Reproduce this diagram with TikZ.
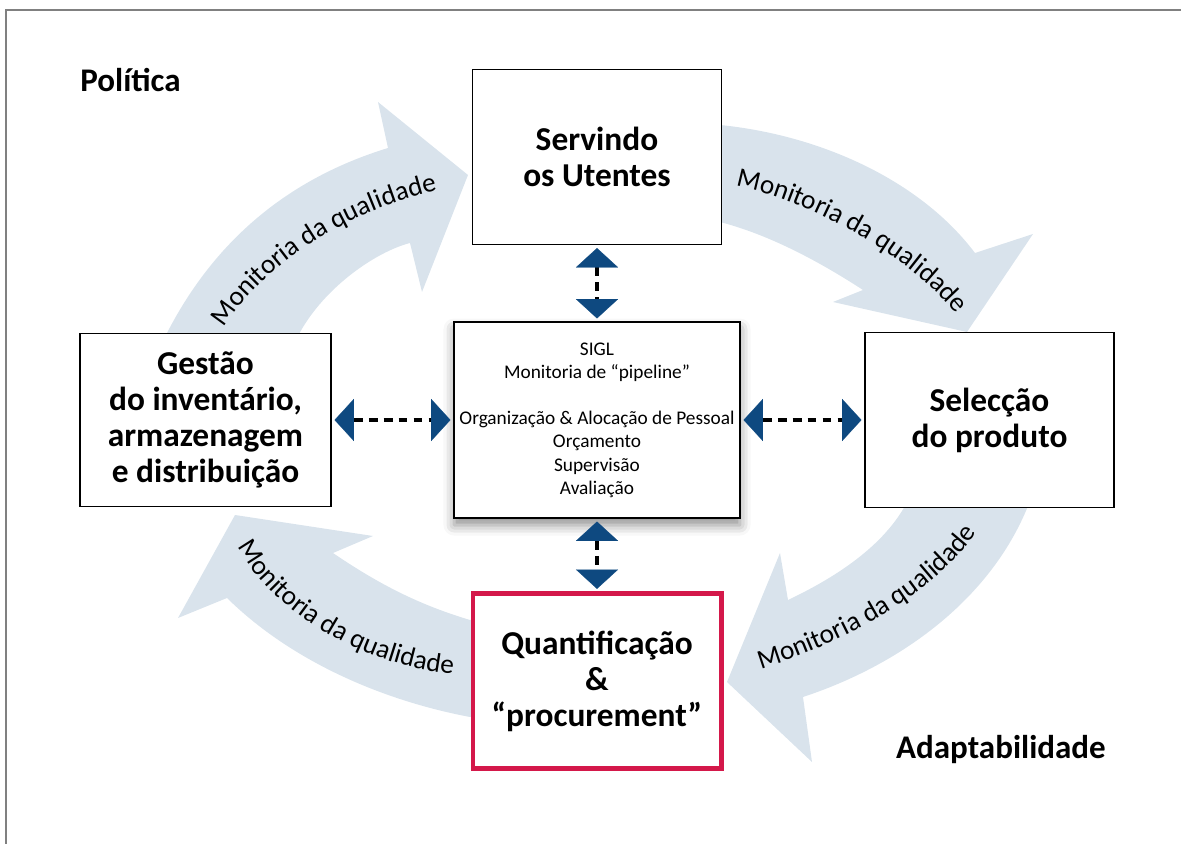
\documentclass[tikz,border=0pt]{standalone}
\usepackage{fontspec}
\setmainfont{Carlito}
\usetikzlibrary{arrows.meta,decorations.text,shadows.blur}
\definecolor{ArrowClr}{HTML}{D9E3EC}
\definecolor{LinkClr}{HTML}{0E4980}
\definecolor{QuantClr}{HTML}{D4184A}
\definecolor{FrameClr}{HTML}{808080}

\begin{document}
\begin{tikzpicture}[x=0.02cm,y=-0.02cm,
  stagebox/.style={draw=black,line width=1.1pt,fill=white,align=center,
    minimum width=4.98cm,minimum height=3.5cm,inner sep=0pt,
    font=\bfseries\fontsize{19}{20.5}\selectfont},
  headlabel/.style={font=\bfseries\fontsize{18.8}{20}\selectfont,inner sep=0pt},
  qualarrow/.style={fill=ArrowClr},
  qualtext/.style={decorate,decoration={text along path,text align=center,
    text={|\fontsize{15.5}{17}\selectfont|#1}}},
  linkarrow/.style={{Triangle[width=24pt,length=11pt,line width=0.1pt,color=LinkClr]}-{Triangle[width=24pt,length=11pt,line width=0.1pt,color=LinkClr]},
    line width=2.2pt,dash pattern=on 5pt off 3.5pt,shorten <=1.5pt,shorten >=1.5pt}]
\useasboundingbox (0,0) rectangle (1181,844);
\draw[FrameClr,line width=1.2pt] (6,860) |- (1200,10);

% quality monitoring arrows
\fill[qualarrow] (165,340) -- (167,333) .. controls (220,230) and (300,175) .. (388,148)
  -- (378,102) -- (468,175) -- (422,292) -- (410,243)
  .. controls (375,252) and (320,290) .. (296,340) -- cycle;
\fill[qualarrow] (715,125) -- (720,125) .. controls (820,135) and (920,180) .. (975,253)
  -- (1033,234) -- (967,332) -- (833,302) -- (863,290)
  .. controls (820,262) and (770,235) .. (720,222) -- (715,222) -- cycle;
\fill[qualarrow] (1028,500) -- (1028,506) .. controls (990,600) and (900,665) .. (803,697)
  -- (812,762) -- (727,682) -- (780,553) -- (788,600)
  .. controls (830,580) and (880,550) .. (905,506) -- (905,500) -- cycle;
\fill[qualarrow] (478,717) -- (470,717) .. controls (380,700) and (290,660) .. (227,598)
  -- (178,618) -- (235,515) -- (373,536) -- (333,553)
  .. controls (380,585) and (420,605) .. (470,620) -- (478,620) -- cycle;

\path[qualtext={Monitoria da qualidade}] (222,330) .. controls (260,270) and (340,212) .. (440,190);
\path[qualtext={Monitoria da qualidade}] (736,186) .. controls (800,198) and (905,250) .. (956,314);
\path[qualtext={Monitoria da qualidade}] (758,670) .. controls (830,648) and (932,600) .. (978,530);
\path[qualtext={Monitoria da qualidade}] (236,544) .. controls (270,610) and (362,667) .. (456,674);

% stages
\node[stagebox] (serv) at (597,157) {Servindo\\os Utentes};
\node[stagebox,minimum width=5.02cm,minimum height=3.46cm] (gest) at (205.5,420) {Gestão\\do inventário,\\armazenagem\\e distribuição};
\node[stagebox] (selec) at (989.5,420) {Selecção\\do produto};
\node[stagebox,draw=QuantClr,line width=2.3pt] (quant) at (597,681) {Quantificação\\\&\\“procurement”};
\node[draw,line width=1.1pt,fill=white,align=center,inner sep=0pt,
  minimum width=5.72cm,minimum height=3.92cm,
  blur shadow={shadow xshift=0pt,shadow yshift=-4pt,shadow blur radius=6pt,shadow opacity=45},
  font=\fontsize{11}{13.2}\selectfont] (sigl) at (597,420)
  {SIGL\\Monitoria de “pipeline”\\[13.2pt]Organização \& Alocação de Pessoal\\Orçamento\\Supervisão\\Avaliação};

\node[headlabel,anchor=west] (pol) at (80,80) {Política};
\node[headlabel,anchor=east] (adapt) at (1106,750) {Adaptabilidade};

% links to the centre
\draw[linkarrow] (serv.south) -- (sigl.north);
\draw[linkarrow] (sigl.south) -- (quant.north);
\draw[linkarrow] (gest.east) -- (sigl.west);
\draw[linkarrow] (sigl.east) -- (selec.west);

\end{tikzpicture}
\end{document}
